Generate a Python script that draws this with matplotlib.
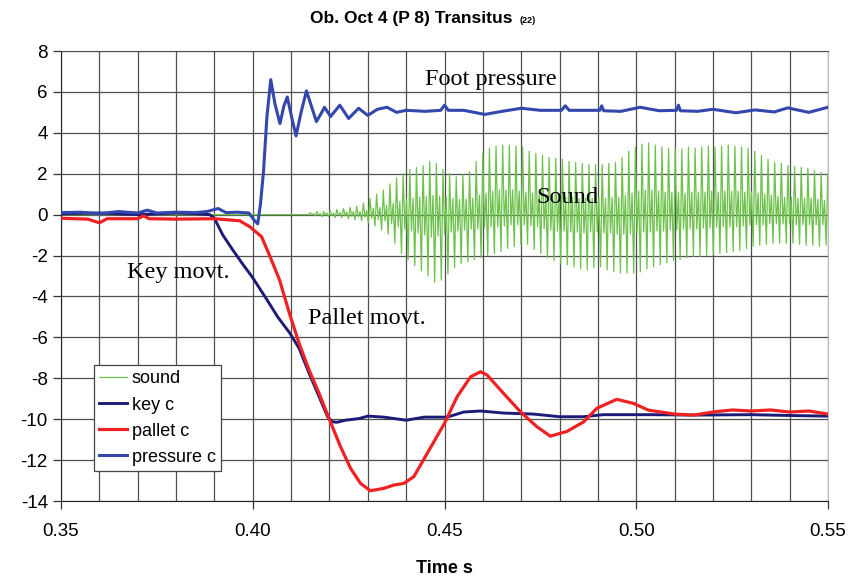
import numpy as np
import matplotlib.pyplot as plt
from matplotlib.ticker import MultipleLocator

# --- data ---
pressure_t = [0.350, 0.355, 0.360, 0.365, 0.370, 0.3725, 0.375, 0.380, 0.385, 0.388,
              0.391, 0.393, 0.396, 0.399, 0.4005, 0.4013, 0.402, 0.4028, 0.4037, 0.4047,
              0.4058, 0.4071, 0.4081, 0.409, 0.4101, 0.4113, 0.4126, 0.414, 0.4153, 0.4166,
              0.4177, 0.4187, 0.4203, 0.4227, 0.425, 0.4276, 0.430, 0.4325, 0.435, 0.4375,
              0.440, 0.445, 0.449, 0.450, 0.451, 0.455, 0.4605, 0.465, 0.470, 0.475,
              0.4805, 0.4815, 0.4825, 0.486, 0.4905, 0.491, 0.4915, 0.496, 0.501, 0.506,
              0.5105, 0.511, 0.5115, 0.516, 0.520, 0.526, 0.531, 0.536, 0.5395, 0.545, 0.55]
pressure_v = [0.10, 0.12, 0.05, 0.15, 0.08, 0.22, 0.08, 0.12, 0.10, 0.15,
              0.30, 0.10, 0.12, 0.08, -0.30, -0.45, 0.50, 2.10, 4.80, 6.60,
              5.40, 4.45, 5.30, 5.75, 4.80, 3.85, 5.00, 6.05, 5.30, 4.55,
              4.90, 5.25, 4.80, 5.35, 4.70, 5.20, 4.85, 5.15, 5.25, 5.00,
              5.10, 5.05, 5.10, 5.35, 5.10, 5.10, 4.90, 5.05, 5.20, 5.10,
              5.10, 5.32, 5.10, 5.10, 5.10, 5.32, 5.08, 5.05, 5.25, 5.08,
              5.10, 5.35, 5.08, 5.05, 5.15, 4.98, 5.12, 5.02, 5.22, 5.00, 5.25]

key_t = [0.350, 0.360, 0.370, 0.380, 0.385, 0.3888, 0.390, 0.3922, 0.3948, 0.3975,
         0.3998, 0.4035, 0.4065, 0.4097, 0.4121, 0.4147, 0.4173, 0.4195, 0.4208, 0.422,
         0.4242, 0.4277, 0.430, 0.4342, 0.440, 0.4447, 0.4507, 0.455, 0.4594, 0.4654,
         0.4732, 0.480, 0.4862, 0.4914, 0.5036, 0.515, 0.530, 0.540, 0.550]
key_v = [0.05, 0.08, 0.00, 0.08, 0.05, 0.00, -0.18, -1.00, -1.73, -2.45,
         -3.03, -4.10, -5.00, -5.80, -6.54, -7.76, -8.90, -9.88, -10.13, -10.15,
         -10.05, -9.97, -9.85, -9.90, -10.05, -9.90, -9.90, -9.65, -9.60, -9.70,
         -9.75, -9.88, -9.88, -9.78, -9.78, -9.80, -9.78, -9.82, -9.85]

pallet_t = [0.350, 0.357, 0.360, 0.362, 0.370, 0.3715, 0.373, 0.380, 0.390, 0.3966,
            0.3993, 0.4023, 0.4044, 0.4070, 0.4097, 0.4121, 0.4147, 0.4173, 0.4197, 0.4229,
            0.4255, 0.4281, 0.4307, 0.4342, 0.4368, 0.4394, 0.4420, 0.4455, 0.450, 0.4533,
            0.4568, 0.4594, 0.4611, 0.4654, 0.4698, 0.4741, 0.4776, 0.4819, 0.4863, 0.4897,
            0.4949, 0.4993, 0.5032, 0.510, 0.515, 0.520, 0.525, 0.530, 0.535, 0.540,
            0.545, 0.550]
pallet_v = [-0.18, -0.22, -0.40, -0.20, -0.20, -0.06, -0.20, -0.22, -0.20, -0.30,
            -0.60, -1.08, -2.00, -3.20, -4.91, -6.30, -7.60, -8.74, -9.88, -11.35,
            -12.40, -13.14, -13.50, -13.38, -13.22, -13.14, -12.81, -11.67, -10.20, -8.90,
            -7.93, -7.68, -7.84, -8.74, -9.64, -10.37, -10.83, -10.60, -10.13, -9.47,
            -9.03, -9.23, -9.56, -9.75, -9.80, -9.65, -9.55, -9.60, -9.55, -9.65,
            -9.60, -9.75]

# sound: per cycle a main peak, a small secondary wiggle, then the main trough
sound_start = 0.415
sound_period = 0.00173
sound_hi = [0.10, 0.15, 0.15, 0.20, 0.25, 0.30, 0.35, 0.40, 0.55, 0.80,
            1.00, 1.20, 1.50, 1.80, 2.00, 2.20, 2.30, 2.40, 2.60, 2.50,
            2.20, 2.00, 1.85, 1.95, 2.10, 2.60, 3.00, 3.25, 3.35, 3.40,
            3.40, 3.35, 3.30, 3.10, 3.00, 2.90, 2.80, 2.75, 2.70, 2.60,
            2.55, 2.50, 2.45, 2.45, 2.45, 2.50, 2.55, 2.80, 3.10, 3.30,
            3.45, 3.50, 3.40, 3.30, 3.25, 3.25, 3.20, 3.30, 3.25, 3.30,
            3.35, 3.30, 3.35, 3.40, 3.35, 3.30, 3.25, 3.10, 2.90, 2.70,
            2.55, 2.50, 2.40, 2.35, 2.30, 2.25, 2.15, 2.05, 2.00]
sound_sec_lo = [-0.02, -0.03, -0.03, -0.05, -0.05, -0.06, -0.08, -0.10, -0.12, -0.18,
                -0.25, -0.30, -0.45, -0.60, -0.70, -0.80, -0.90, -1.00, -1.10, -1.05,
                -0.95, -0.85, -0.80, -0.75, -0.70, -0.70, -0.65, -0.60, -0.60, -0.55,
                -0.50, -0.50, -0.50, -0.55, -0.60, -0.70, -0.75, -0.80, -0.80, -0.85,
                -0.85, -0.90, -0.85, -0.85, -0.90, -0.90, -0.95, -0.95, -0.95, -0.90,
                -0.85, -0.85, -0.80, -0.80, -0.75, -0.75, -0.70, -0.70, -0.70, -0.65,
                -0.65, -0.60, -0.60, -0.60, -0.60, -0.55, -0.50, -0.50, -0.50, -0.45,
                -0.45, -0.45, -0.45, -0.50, -0.50, -0.50, -0.50, -0.50, -0.50]
sound_sec_hi = [0.05, 0.05, 0.08, 0.08, 0.10, 0.12, 0.15, 0.15, 0.20, 0.30,
                0.35, 0.45, 0.55, 0.65, 0.75, 0.80, 0.85, 0.90, 0.95, 0.90,
                0.85, 0.80, 0.75, 0.75, 0.80, 0.95, 1.05, 1.15, 1.20, 1.20,
                1.20, 1.15, 1.10, 1.05, 1.00, 0.95, 0.90, 0.90, 0.85, 0.85,
                0.80, 0.80, 0.80, 0.80, 0.80, 0.85, 0.85, 0.95, 1.05, 1.15,
                1.20, 1.20, 1.15, 1.10, 1.10, 1.10, 1.05, 1.10, 1.10, 1.10,
                1.15, 1.10, 1.15, 1.15, 1.15, 1.10, 1.10, 1.05, 1.00, 0.95,
                0.90, 0.85, 0.85, 0.80, 0.80, 0.80, 0.75, 0.70, 0.70]
sound_lo = [-0.05, -0.10, -0.10, -0.15, -0.15, -0.20, -0.25, -0.30, -0.40, -0.55,
            -0.75, -0.95, -1.40, -1.90, -2.20, -2.50, -2.75, -3.00, -3.30, -3.20,
            -2.90, -2.60, -2.40, -2.30, -2.20, -2.10, -2.00, -1.90, -1.80, -1.65,
            -1.55, -1.45, -1.45, -1.70, -1.90, -2.10, -2.25, -2.40, -2.45, -2.55,
            -2.65, -2.70, -2.60, -2.55, -2.70, -2.80, -2.85, -2.85, -2.85, -2.80,
            -2.65, -2.55, -2.45, -2.35, -2.25, -2.20, -2.10, -2.05, -2.05, -2.00,
            -1.95, -1.90, -1.85, -1.80, -1.75, -1.65, -1.55, -1.50, -1.45, -1.40,
            -1.40, -1.40, -1.40, -1.45, -1.50, -1.50, -1.55, -1.50, -1.45]

# build the sound trace from the per-cycle extremes
n = len(sound_hi)
t0 = sound_start + sound_period * np.arange(n)
cyc_t = np.column_stack([t0, t0 + 0.25 * sound_period, t0 + 0.5 * sound_period,
                         t0 + 0.75 * sound_period]).ravel()
cyc_v = np.column_stack([sound_hi, sound_sec_lo, sound_sec_hi, sound_lo]).ravel()
sound_t = np.concatenate([[0.35, sound_start - 0.25 * sound_period], cyc_t])
sound_v = np.concatenate([[0.0, 0.0], cyc_v])
keep = sound_t <= 0.55
sound_t, sound_v = sound_t[keep], sound_v[keep]

plt.rcParams['font.family'] = ['Liberation Sans', 'DejaVu Sans']
plt.rcParams['axes.unicode_minus'] = False

fig = plt.figure(figsize=(8.48, 5.78), dpi=100)
ax = fig.add_axes([61/848, 1 - 501/578, 767/848, 450/578])

ax.plot(sound_t, sound_v, color='#6cc24a', lw=0.9, label='sound', zorder=2)
ax.plot(key_t, key_v, color='#1c1c78', lw=2.1, label='key c', zorder=3)
ax.plot(pallet_t, pallet_v, color='#ee2222', lw=2.3, label='pallet c', zorder=5)
ax.plot(pressure_t, pressure_v, color='#3447ad', lw=2.2, label='pressure c', zorder=4)

ax.set_xlim(0.35, 0.55)
ax.set_ylim(-14, 8)
ax.xaxis.set_major_locator(MultipleLocator(0.05))
ax.xaxis.set_minor_locator(MultipleLocator(0.01))
ax.yaxis.set_major_locator(MultipleLocator(2))
ax.xaxis.set_major_formatter(plt.FuncFormatter(lambda v, p: f'{v:.2f}'))
ax.grid(True, which='both', axis='x', color='#505050', lw=0.9)
ax.grid(True, which='major', axis='y', color='#505050', lw=0.9)
ax.tick_params(axis='x', which='minor', length=0)
ax.tick_params(axis='both', which='major', direction='out', length=6, width=0.9,
               labelsize=13.5, color='#333333')
ax.tick_params(axis='x', pad=10)
for side in ['left', 'bottom']:
    ax.spines[side].set_color('#222222')
ax.spines['top'].set_color('#505050')
ax.spines['right'].set_color('#bbbbbb')

ax.set_xlabel('Time s', fontsize=13, fontweight='bold', labelpad=14)
fig.text(0.485, 0.968, 'Ob. Oct 4 (P 8) Transitus', ha='center', va='center',
         fontsize=12.5, fontweight='bold')
fig.text(0.622, 0.964, '(22)', ha='center', va='center', fontsize=6.5, fontweight='bold')

serif = ['Liberation Serif', 'DejaVu Serif']
ax.text(0.4621, 6.6, 'Foot pressure', family=serif, fontsize=17.5, ha='center', va='center')
ax.text(0.4821, 0.85, 'Sound', family=serif, fontsize=17.5, ha='center', va='center')
ax.text(0.3807, -2.85, 'Key movt.', family=serif, fontsize=17.5, ha='center', va='center')
ax.text(0.4298, -5.1, 'Pallet movt.', family=serif, fontsize=17.5, ha='center', va='center')

leg = ax.legend(loc='lower left', bbox_to_anchor=(33/767, 30/450), fontsize=13,
                frameon=True, fancybox=False, edgecolor='#444444', framealpha=1,
                handlelength=1.5, borderpad=0.3, labelspacing=0.5, handletextpad=0.3,
                borderaxespad=0)
leg.get_frame().set_linewidth(0.9)
leg.set_zorder(10)

fig.savefig('out.png', dpi=100)
